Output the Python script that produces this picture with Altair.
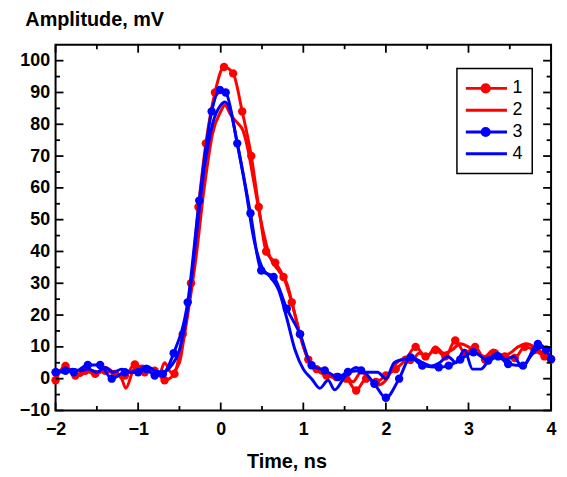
import altair as alt
import pandas as pd

# ---- data ----
SERIES = ["1", "2", "3", "4"]
COLORS = ["#ff0000", "#ff0000", "#0000ff", "#0000ff"]

S1_X = [-2.00, -1.88, -1.76, -1.64, -1.52, -1.40, -1.28, -1.16, -1.04, -0.92, -0.80, -0.68, -0.56,
        -0.46, -0.36, -0.27, -0.18, -0.07, 0.04, 0.15, 0.26, 0.37, 0.46, 0.55, 0.66, 0.76, 0.86,
        0.96, 1.06, 1.16, 1.28, 1.40, 1.52, 1.64, 1.76, 1.88, 2.00, 2.12, 2.24, 2.36, 2.48, 2.60,
        2.72, 2.84, 2.96, 3.08, 3.20, 3.32, 3.44, 3.56, 3.68, 3.80, 3.92, 4.00]
S1_Y = [-0.5, 4.0, 1.0, 2.5, 1.5, 2.5, 1.5, 1.0, 4.5, 2.0, 2.5, -0.5, 1.5,
        14, 30, 54, 74, 90, 98, 96, 84, 70, 54, 40, 36.5, 32, 24,
        14, 6, 3, 1, 0.5, 0, -3.7, 0, -1, 1, 3, 6, 10, 7, 9,
        7, 12, 8, 10, 6, 8, 7, 6.5, 10, 9, 7, 6]

S2_X = [-2.0, -1.9, -1.8, -1.7, -1.6, -1.5, -1.4, -1.3, -1.2, -1.15, -1.05, -0.95, -0.85, -0.75,
        -0.68, -0.6, -0.5, -0.45, -0.4, -0.3, -0.2, -0.1, 0.0, 0.05, 0.12, 0.2, 0.27, 0.33, 0.4,
        0.5, 0.6, 0.7, 0.8, 0.9, 1.0, 1.1, 1.2, 1.3, 1.4, 1.5, 1.6, 1.7, 1.8, 1.9, 2.0, 2.1, 2.2,
        2.3, 2.4, 2.5, 2.6, 2.7, 2.8, 2.9, 3.0, 3.1, 3.2, 3.3, 3.4, 3.5, 3.6, 3.7, 3.8, 3.9, 4.0]
S2_Y = [1, 3, 2, 1, 3, 2, 3.5, 2, 0, -3, 3, 4, 2, 1,
        5, 2, 5, 12, 20, 38, 60, 77, 84, 86, 83, 80.5, 78, 72, 62,
        48, 38, 34, 30, 20, 10, 4, 2, 1, 0, 1, -1, 2, 0, -2, -0.5, 4, 6,
        5, 8, 7, 10, 8, 9, 11, 10, 8, 7, 9, 7, 8, 10, 11, 10, 8, 6]

S3_X = [-2.00, -1.88, -1.78, -1.61, -1.46, -1.32, -1.16, -1.00, -0.90, -0.80, -0.70, -0.57,
        -0.40, -0.26, -0.11, -0.01, 0.06, 0.20, 0.36, 0.49, 0.64, 0.80, 0.96, 1.10, 1.26, 1.42,
        1.54, 1.70, 1.86, 2.00, 2.16, 2.30, 2.44, 2.64, 2.76, 2.90, 3.06, 3.24, 3.36, 3.48, 3.66,
        3.84, 3.94, 4.00]
S3_Y = [2, 2.5, 2, 4.3, 4.3, 0, 2, 2, 3, 1, 1.5, 8,
        24, 56, 84, 90.8, 90, 74, 52, 34, 32, 22, 14, 4.2, 2.6, 0.5,
        2.1, 2.6, -1.6, -6, 0, 6.7, 4.1, 3.6, 4.1, 6, 8.3, 5.7, 7, 4.6, 4.1,
        10.9, 9, 6.2]

S4_X = [-2.0, -1.9, -1.8, -1.7, -1.6, -1.5, -1.4, -1.3, -1.2, -1.1, -1.0, -0.9, -0.8, -0.7,
        -0.6, -0.5, -0.4, -0.3, -0.2, -0.1, 0.0, 0.05, 0.12, 0.2, 0.3, 0.4, 0.5, 0.6, 0.7, 0.8,
        0.9, 1.0, 1.1, 1.2, 1.3, 1.38, 1.5, 1.64, 1.75, 1.9, 2.0, 2.1, 2.2, 2.32, 2.45, 2.55,
        2.65, 2.75, 2.85, 2.95, 3.05, 3.15, 3.25, 3.35, 3.45, 3.55, 3.65, 3.75, 3.85, 3.95, 4.0]
S4_Y = [3, 2, 3, 2.5, 3, 2, 3.5, 2, 3, 2, 2.5, 4, 2.5, 2,
        4, 9, 22, 44, 66, 80, 86, 87, 84, 74, 60, 44, 35, 32, 28, 19,
        9, 3, 0, -3, -0.5, -3.5, 0.5, 3.5, 2, 2, 0, 5, 6, 6.5, 5, 4,
        5, 7, 5, 9, 3, 3, 6, 8, 6, 7, 3.5, 7, 9.5, 10, 9]

X_MAJOR = [-2, -1, 0, 1, 2, 3, 4]
X_MINOR = [-1.5, -0.5, 0.5, 1.5, 2.5, 3.5]
Y_MAJOR = [-10, 0, 10, 20, 30, 40, 50, 60, 70, 80, 90, 100]
Y_MINOR = [-5, 5, 15, 25, 35, 45, 55, 65, 75, 85, 95]

# ---- build tables ----
def table(name, xs, ys):
    return pd.DataFrame({"series": name, "x": xs, "y": ys})

d1 = table("1", S1_X, S1_Y)
d2 = table("2", S2_X, S2_Y)
d3 = table("3", S3_X, S3_Y)
d4 = table("4", S4_X, S4_Y)
red = pd.concat([d1, d2])
blue = pd.concat([d3, d4])

W, H = 500, 369
FONT = "Liberation Sans"

xscale = alt.Scale(domain=[-2, 4], nice=False, zero=False)
yscale = alt.Scale(domain=[-10, 105], nice=False, zero=False)

# legend symbol: line with a dot (dot made of concentric stroked rings)
def ring(r):
    return f"M{r},0A{r},{r},0,1,1,-{r},0A{r},{r},0,1,1,{r},0"

DOT_PATH = "M-1,0L1,0" + ring(0.17) + ring(0.10) + ring(0.03)
shape_expr = f"(datum.value == '1' || datum.value == '3') ? '{DOT_PATH}' : 'stroke'"

legend = alt.Legend(
    title=None, orient="none", legendX=405, legendY=24,
    symbolSize=1849, symbolStrokeWidth=3, clipHeight=22, rowPadding=0,
    padding=9, symbolOffset=-3, labelOffset=4,
    labelFont=FONT, labelFontSize=18, labelColor="black",
    strokeColor="black", fillColor="white",
    symbolType=alt.ExprRef(expr=shape_expr),
)

color = alt.Color("series:N", scale=alt.Scale(domain=SERIES, range=COLORS), legend=legend)

x_axis = alt.Axis(values=X_MAJOR, ticks=False, tickSize=0, domain=False, grid=False,
                  labelFlush=False, labelPadding=10, labelFont=FONT, labelFontSize=18,
                  labelFontWeight="bold", labelColor="black",
                  title="Time, ns", titleFont=FONT, titleFontSize=20, titleFontWeight="bold",
                  titleColor="black", titleX=233, titleY=58, titleAlign="center",
                  titleBaseline="alphabetic")
y_axis = alt.Axis(values=Y_MAJOR, ticks=False, tickSize=0, domain=False, grid=False,
                  labelPadding=6, labelFont=FONT, labelFontSize=18, labelFontWeight="bold",
                  labelColor="black", labelOverlap=False,
                  title="Amplitude, mV", titleFont=FONT, titleFontSize=20, titleFontWeight="bold",
                  titleColor="black", titleAngle=0, titleX=-31, titleY=-19, titleAlign="left",
                  titleBaseline="alphabetic")


def lines(df):
    return alt.Chart(df).mark_line(strokeWidth=3, interpolate="monotone").encode(
        x=alt.X("x:Q", scale=xscale, axis=x_axis),
        y=alt.Y("y:Q", scale=yscale, axis=y_axis),
        color=color,
        detail="series:N",
    )


def dots(df, col):
    return alt.Chart(df).mark_circle(size=72, opacity=1, color=col).encode(
        x=alt.X("x:Q", scale=xscale, axis=x_axis),
        y=alt.Y("y:Q", scale=yscale, axis=y_axis),
    )


def xticks(vals, length, top):
    y0 = 0 if top else H
    y1 = length if top else H - length
    return alt.Chart(pd.DataFrame({"x": vals})).mark_rule(color="black", strokeWidth=1.8).encode(
        x=alt.X("x:Q", scale=xscale, axis=x_axis), y=alt.value(y0), y2=alt.value(y1))


def yticks(vals, length, right):
    x0 = W if right else 0
    x1 = W - length if right else length
    return alt.Chart(pd.DataFrame({"y": vals})).mark_rule(color="black", strokeWidth=1.8).encode(
        y=alt.Y("y:Q", scale=yscale, axis=y_axis), x=alt.value(x0), x2=alt.value(x1))


tick_layers = [
    xticks(X_MAJOR, 8, False), xticks(X_MINOR, 4.5, False),
    xticks(X_MAJOR, 8, True), xticks(X_MINOR, 4.5, True),
    yticks(Y_MAJOR, 8, False), yticks(Y_MINOR, 4.5, False),
    yticks(Y_MAJOR, 8, True), yticks(Y_MINOR, 4.5, True),
]

chart = alt.layer(
    lines(red), dots(d1, "#ff0000"),
    lines(blue), dots(d3, "#0000ff"),
    *tick_layers,
).properties(
    width=W, height=H,
    autosize=alt.AutoSizeParams(type="none"),
    padding={"left": 48, "top": 35, "right": 8, "bottom": 62},
).configure_view(
    stroke="black", strokeWidth=2
).configure_legend(
    strokeWidth=1.5
)

chart.save("out.html", embed_options={"renderer": "svg", "actions": False})
